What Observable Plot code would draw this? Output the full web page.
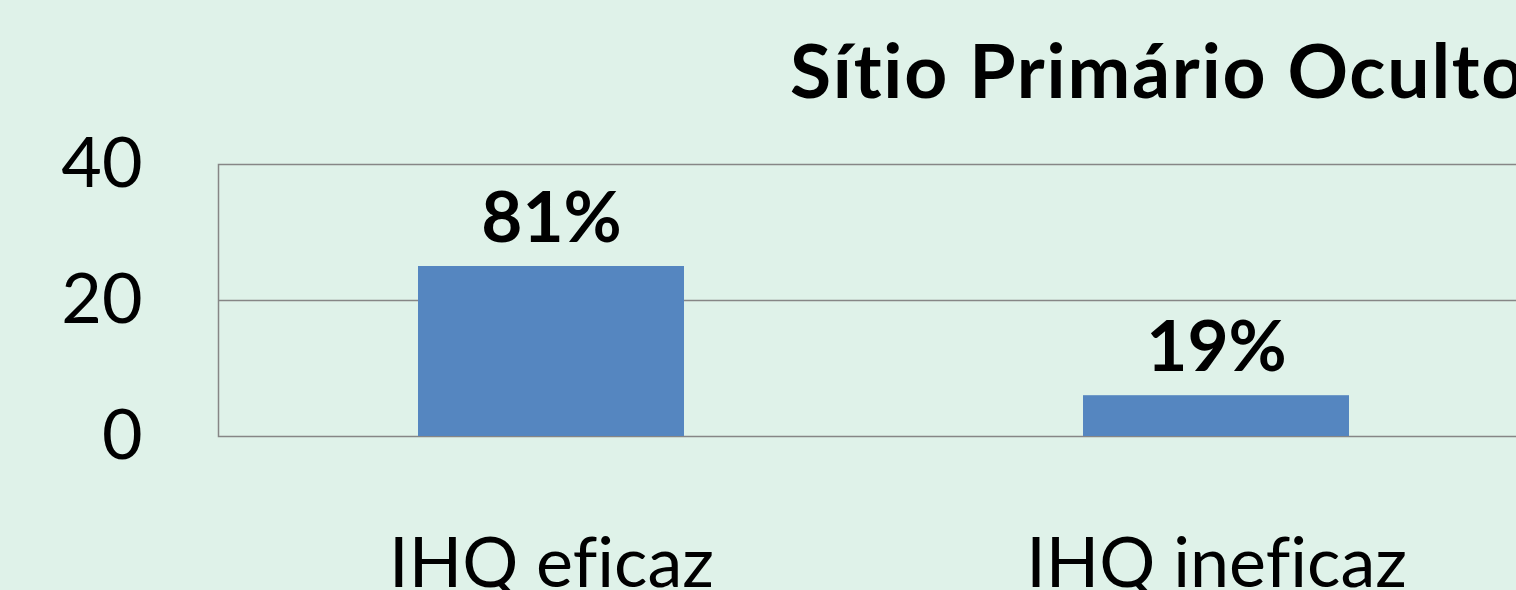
<!DOCTYPE html>
<html>
<head>
<meta charset="utf-8">
<script src="https://cdn.jsdelivr.net/npm/d3@7"></script>
<script src="https://cdn.jsdelivr.net/npm/@observablehq/plot@0.6"></script>
<style>
  html, body { margin: 0; padding: 0; background: #DFF2E9; width: 1516px; height: 590px; overflow: hidden; font-variant-ligatures: none; font-feature-settings: "liga" 0, "clig" 0; }
  #title { position: relative; height: 120px; font-family: Lato, sans-serif; font-weight: bold; font-size: 75px; line-height: 1; letter-spacing: 1.8px; }
  #title span { position: absolute; left: 790px; top: 32px; white-space: nowrap; color: #000; }
  #chart svg { display: block; font-variant-ligatures: none; }
</style>
</head>
<body>
<div id="title"><span>Sítio Primário Oculto</span></div>
<div id="chart"></div>
<script>
const categories = ["IHQ eficaz", "IHQ ineficaz"];
const values = [25, 6];
const labels = ["81%", "19%"];
const yTicks = [0, 20, 40];

const data = categories.map((c, i) => ({category: c, value: values[i], label: labels[i]}));

const chart = Plot.plot({
  width: 1548,
  height: 470,
  marginLeft: 218,
  marginRight: 0,
  marginTop: 44,
  marginBottom: 154,
  style: {background: "transparent", maxWidth: "none", overflow: "visible", fontFamily: "Lato, sans-serif", color: "#000"},
  x: {domain: categories, paddingInner: 0.6, paddingOuter: 0.3, label: null, tickSize: 0, tickPadding: 101},
  y: {domain: [0, 40], ticks: yTicks, label: null, tickSize: 0, tickPadding: 76},
  marks: [
    Plot.ruleY([20], {stroke: "#868686", strokeWidth: 1.5}),
    Plot.frame({stroke: "#868686", strokeWidth: 1.5}),
    Plot.barY(data, {x: "category", y: "value", fill: "#5586C0"}),
    Plot.text(data, {x: "category", y: "value", text: "label", dy: -25, lineAnchor: "bottom", fontSize: 71, fontWeight: "bold", fill: "#000"}),
    Plot.axisX({tickSize: 0, tickPadding: 101, fontSize: 70, label: null}),
    Plot.axisY({ticks: yTicks, tickSize: 0, tickPadding: 76, fontSize: 70, label: null})
  ]
});
document.getElementById("chart").appendChild(chart);
</script>
</body>
</html>
